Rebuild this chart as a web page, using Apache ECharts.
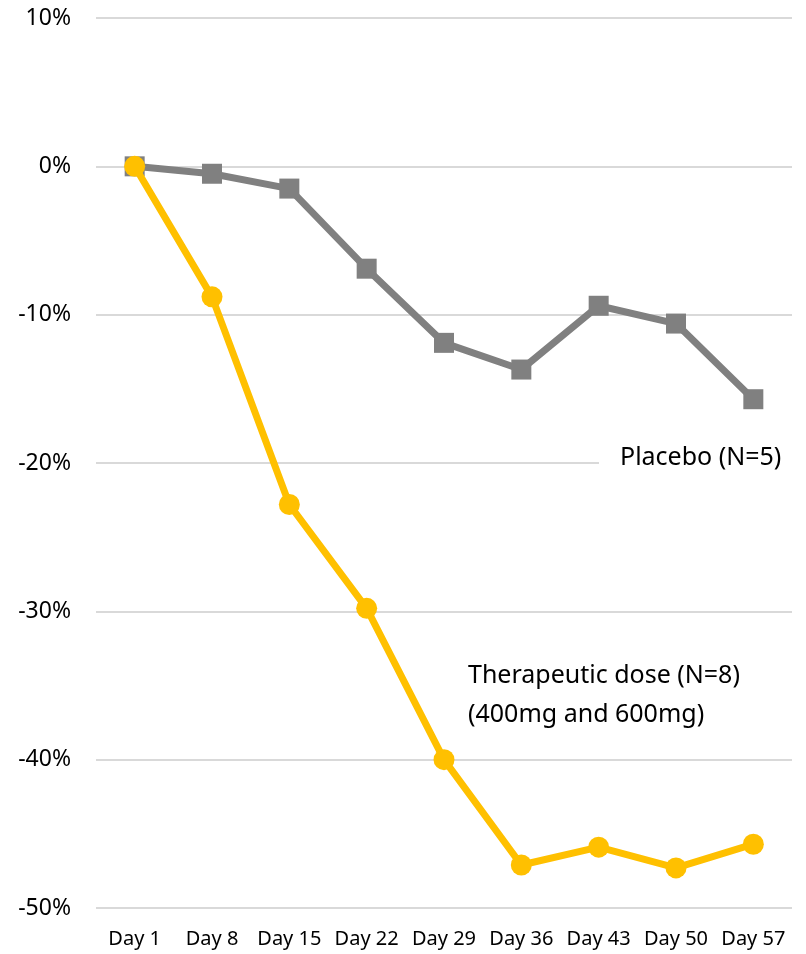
<!DOCTYPE html>
<html>
<head>
<meta charset="utf-8">
<script src="https://cdn.jsdelivr.net/npm/echarts@6/dist/echarts.min.js"></script>
<style>
html,body{margin:0;padding:0;background:#fff;}
#chart{width:806px;height:954px;}
</style>
</head>
<body>
<div id="chart"></div>
<script>
const categories = ['Day 1','Day 8','Day 15','Day 22','Day 29','Day 36','Day 43','Day 50','Day 57'];
const placebo = [0, -0.5, -1.5, -6.9, -11.9, -13.7, -9.4, -10.6, -15.7];
const therapeutic = [0, -8.8, -22.8, -29.8, -40.0, -47.1, -45.9, -47.3, -45.7];
const yTicks = {min: -50, max: 10, interval: 10};

const FONT = 'Noto Sans';
const chart = echarts.init(document.getElementById('chart'), null, {renderer: 'canvas'});
chart.setOption({
  animation: false,
  backgroundColor: '#ffffff',
  grid: {left: 96, right: 14, top: 18, bottom: 46, containLabel: false},
  xAxis: {
    type: 'category',
    data: categories,
    boundaryGap: true,
    axisLine: {show: false},
    axisTick: {show: false},
    axisLabel: {color: '#000', fontFamily: FONT, fontSize: 20, margin: 21, interval: 0}
  },
  yAxis: {
    type: 'value',
    min: yTicks.min, max: yTicks.max, interval: yTicks.interval,
    axisLine: {show: false},
    axisTick: {show: false},
    axisLabel: {color: '#000', fontFamily: FONT, fontSize: 23, margin: 25, formatter: '{value}%'},
    splitLine: {lineStyle: {color: '#d9d9d9', width: 2}}
  },
  series: [
    {
      name: 'Placebo (N=5)',
      type: 'line',
      data: placebo,
      symbol: 'rect',
      symbolSize: 20,
      lineStyle: {color: '#808080', width: 7},
      itemStyle: {color: '#808080'},
      z: 2
    },
    {
      name: 'Therapeutic dose (N=8)',
      type: 'line',
      data: therapeutic,
      symbol: 'circle',
      symbolSize: 21,
      lineStyle: {color: '#ffc000', width: 7},
      itemStyle: {color: '#ffc000'},
      z: 3
    }
  ],
  graphic: [
    {
      type: 'rect', left: 599, top: 446, shape: {width: 207, height: 34},
      style: {fill: '#ffffff'}, z: 10
    },
    {
      type: 'text', left: 620, top: 445, z: 11,
      style: {text: 'Placebo (N=5)', font: '25px "Noto Sans"', fill: '#000'}
    },
    {
      type: 'text', left: 468, top: 656, z: 11,
      style: {text: 'Therapeutic dose (N=8)\n(400mg and 600mg)', font: '25px "Noto Sans"', fill: '#000', lineHeight: 39}
    }
  ]
});
</script>
</body>
</html>
